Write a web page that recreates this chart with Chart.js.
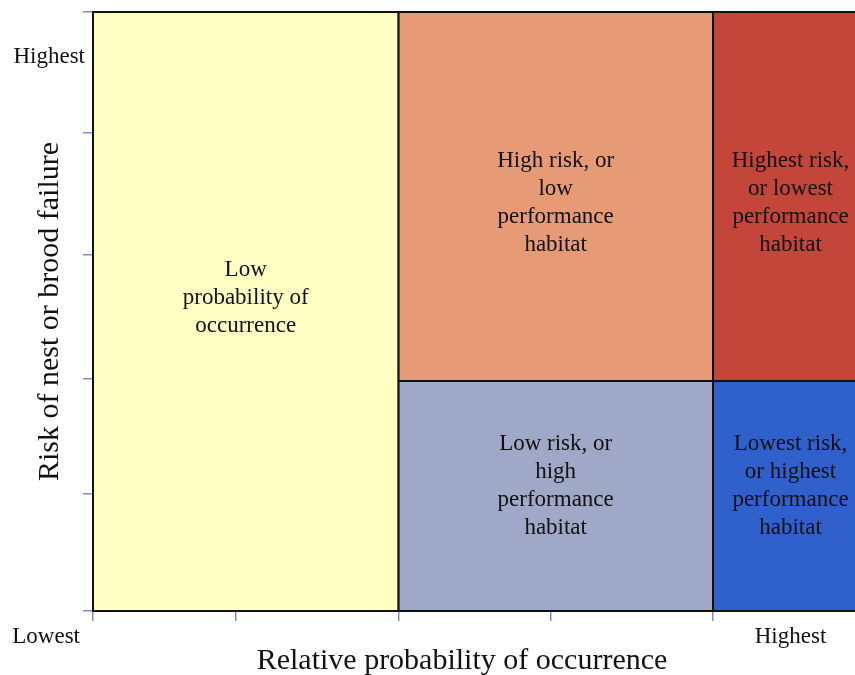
<!DOCTYPE html>
<html>
<head>
<meta charset="utf-8">
<script src="https://cdn.jsdelivr.net/npm/chart.js@4.4.1/dist/chart.umd.min.js"></script>
<style>
  html, body { margin: 0; padding: 0; background: #fff; overflow: hidden; }
  #wrap { width: 900px; height: 675px; }
</style>
</head>
<body>
<div id="wrap"><canvas id="chart"></canvas></div>
<script>
// cell bounds in axis units (x: 0..5, y: 0..5)
const cellX0 = [0, 1.97, 4, 1.97, 4];
const cellX1 = [1.97, 4, 5, 4, 5];
const cellY0 = [0, 1.92, 1.92, 0, 0];
const cellY1 = [5, 5, 5, 1.92, 1.92];
const cellColors = ["#ffffc4", "#e69b76", "#c4463a", "#a0a8c8", "#3060cc"];
const cellLabels = [
  ["Low", "probability of", "occurrence"],
  ["High risk, or", "low", "performance", "habitat"],
  ["Highest risk,", "or lowest", "performance", "habitat"],
  ["Low risk, or", "high", "performance", "habitat"],
  ["Lowest risk,", "or highest", "performance", "habitat"]
];
const labelY = [2.61, 3.41, 3.41, 1.04, 1.04];

const xTickValues = [0, 0.92, 1.97, 2.95, 4, 5];
const yTickValues = [0, 0.98, 1.94, 2.97, 3.99, 5];
const lowLabel = "Lowest";
const highLabel = "Highest";
const xTitle = "Relative probability of occurrence";
const yTitle = "Risk of nest or brood failure";

const SERIF = '"Liberation Serif", "Times New Roman", serif';

const datasets = cellColors.map((c, i) => ({
  data: [
    { x: cellX0[i], y: cellY0[i] },
    { x: cellX1[i], y: cellY0[i] },
    { x: cellX1[i], y: cellY1[i] },
    { x: cellX0[i], y: cellY1[i] },
    { x: cellX0[i], y: cellY0[i] }
  ],
  showLine: true,
  fill: "shape",
  backgroundColor: c,
  borderColor: "#111",
  borderWidth: 2,
  pointRadius: 0,
  tension: 0,
  clip: false
}));

const textPlugin = {
  id: "cellText",
  afterDatasetsDraw(chart) {
    const { ctx, chartArea, scales: { x, y } } = chart;
    ctx.save();
    ctx.fillStyle = "#111";
    ctx.textAlign = "center";
    ctx.textBaseline = "middle";
    ctx.font = "23px " + SERIF;
    cellLabels.forEach((lines, i) => {
      const cx = (x.getPixelForValue(cellX0[i]) + x.getPixelForValue(cellX1[i])) / 2;
      const cy = y.getPixelForValue(labelY[i]);
      lines.forEach((t, j) => {
        ctx.fillText(t, cx, cy + (j - (lines.length - 1) / 2) * 28);
      });
    });

    // end labels
    ctx.textAlign = "right";
    ctx.fillText(highLabel, chartArea.left - 8, chartArea.top + 45);
    ctx.fillText(lowLabel, chartArea.left - 13, chartArea.bottom + 26);
    ctx.textAlign = "center";
    ctx.fillText(highLabel, x.getPixelForValue(4.5), chartArea.bottom + 26);

    // x title
    ctx.font = "30px " + SERIF;
    ctx.fillText(xTitle, chartArea.left + 369, chartArea.bottom + 50);
    ctx.restore();
  }
};

const tickGrid = {
  drawOnChartArea: false,
  drawTicks: true,
  tickLength: 10,
  color: "#7d8cc2",
  lineWidth: 1.5
};

new Chart(document.getElementById("chart"), {
  type: "scatter",
  data: { datasets },
  options: {
    responsive: true,
    maintainAspectRatio: false,
    animation: false,
    layout: { padding: { top: 12, right: 32, bottom: 0, left: 0 } },
    plugins: { legend: { display: false }, tooltip: { enabled: false } },
    scales: {
      x: {
        type: "linear",
        min: 0,
        max: 5,
        afterBuildTicks: (s) => { s.ticks = xTickValues.map((v) => ({ value: v })); },
        afterFit: (s) => { s.height = 64; },
        ticks: { display: false },
        grid: tickGrid,
        border: { display: true, color: "#111", width: 2 }
      },
      y: {
        type: "linear",
        min: 0,
        max: 5,
        afterBuildTicks: (s) => { s.ticks = yTickValues.map((v) => ({ value: v })); },
        afterFit: (s) => { s.width = 93; },
        ticks: { display: false },
        grid: tickGrid,
        border: { display: true, color: "#111", width: 2 },
        title: {
          display: true,
          text: yTitle,
          color: "#111",
          font: { family: SERIF, size: 30 },
          padding: { top: 32, bottom: 0 }
        }
      }
    }
  },
  plugins: [textPlugin]
});
</script>
</body>
</html>
